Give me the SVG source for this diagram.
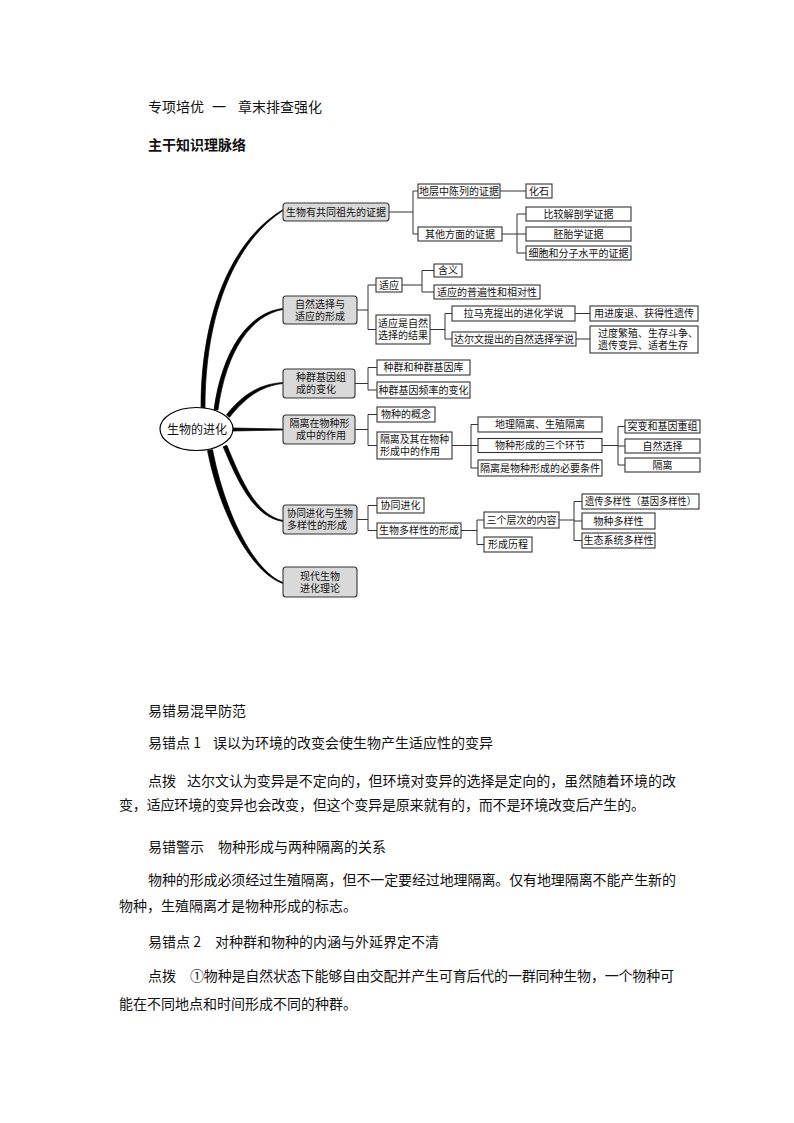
<svg xmlns="http://www.w3.org/2000/svg" width="794" height="1123" viewBox="0 0 794 1123">
<style>
text{font-family:"Noto Sans CJK SC","Liberation Sans",sans-serif;fill:#111}
.t14{font-size:14px}
.b{font-weight:bold}
.bx{font-size:10px;text-anchor:middle}
.bl{font-size:10px}
.g{fill:#d9d9d9;stroke:#333;stroke-width:1.1}
.w{fill:#fff;stroke:#333;stroke-width:1.1}
.c{fill:none;stroke:#333;stroke-width:1}
.cv{fill:#000;stroke:#000;stroke-width:0.7}
</style>
<rect width="794" height="1123" fill="#fff"/>
<text class="t14" x="148" y="112">专项培优</text>
<text class="t14" x="212" y="112">一</text>
<text class="t14" x="238" y="112">章末排查强化</text>
<text class="t14 b" x="148" y="150">主干知识理脉络</text>

<g id="connectors">
<path class="cv" d="M201,408 C201,310 233.5,239 283,209.6 L283,210.6 C236.5,241 205,310 205,408 Z"/>
<path class="cv" d="M214,410 C222,350 249,312 283,308.5 L283,309.5 C251,315 226,351 218,410 Z"/>
<path class="cv" d="M226.4,414.8 C242.4,394.8 259,384 283,382.5 L283,383.5 C261,386 245.6,397.2 229.6,417.2 Z"/>
<path class="cv" d="M233,428 L283,429 L283,430 L233,431 Z"/>
<path class="cv" d="M223.2,446.8 C238.2,482.8 254,517 283,521.5 L283,520.5 C256,515 241.8,481.2 226.8,445.2 Z"/>
<path class="cv" d="M207.5,450.5 C219.5,512.5 251,573 283,583.5 L283,582.5 C253,571 224.5,511.5 212.5,449.5 Z"/>
<path class="c" d="M389,212 H413 M413,191 V234 M413,191 H418 M413,234 H418 M500,191 H526 M502,234 H517 M517,214 V253 M517,214 H526 M517,234 H526 M517,253 H526"/>
<path class="c" d="M357,310 H368 M368,285 V329.5 M368,285 H376 M368,329.5 H376 M402,285 H422 M422,270.5 V292 M422,270.5 H434 M422,292 H434 M430,329.5 H445 M445,313.5 V339 M445,313.5 H452 M445,339 H452 M575,313.5 H590 M576,339 H590"/>
<path class="c" d="M355,383.5 H368 M368,367.5 V390 M368,367.5 H377 M368,390 H377"/>
<path class="c" d="M355,429.5 H368 M368,414.5 V445.5 M368,414.5 H377 M368,445.5 H377 M452,445.5 H471 M471,424.5 V468 M471,424.5 H478 M471,445.5 H478 M471,468 H478 M602,445.5 H618 M618,426.5 V465 M618,426.5 H625 M618,446 H625 M618,465 H625"/>
<path class="c" d="M357,519.5 H368 M368,505.5 V530.5 M368,505.5 H377 M368,530.5 H377 M461,530.5 H477 M477,520 V544.5 M477,520 H484 M477,544.5 H484 M559,520 H574 M574,501.5 V540.5 M574,501.5 H582 M574,521 H582 M574,540.5 H582"/>
</g>

<g id="root"><ellipse cx="196.5" cy="429" rx="36.5" ry="21.5" fill="#fff" stroke="#000" stroke-width="1.2"/><text x="197" y="433.5" style="font-size:12px;text-anchor:middle">生物的进化</text></g>

<g id="n1"><rect class="g" x="283" y="203" width="106" height="18" rx="3"/><text class="bx" x="336" y="215.5">生物有共同祖先的证据</text></g>
<g id="n2"><rect class="g" x="283" y="296" width="74" height="28" rx="3"/><text class="bx"><tspan x="320" y="307.5">自然选择与</tspan><tspan x="320" y="319.5">适应的形成</tspan></text></g>
<g id="n3"><rect class="g" x="283" y="369" width="72" height="29" rx="3"/><text class="bl"><tspan x="296" y="381">种群基因组</tspan><tspan x="296" y="393">成的变化</tspan></text></g>
<g id="n4"><rect class="g" x="283" y="415" width="72" height="29" rx="3"/><text class="bx"><tspan x="319.5" y="427">隔离在物种形</tspan><tspan x="321" y="439">成中的作用</tspan></text></g>
<g id="n5"><rect class="g" x="283" y="505" width="74" height="29" rx="3"/><text class="bl"><tspan x="287" y="517" textLength="66" lengthAdjust="spacingAndGlyphs">协同进化与生物</tspan><tspan x="287" y="529">多样性的形成</tspan></text></g>
<g id="n6"><rect class="g" x="283" y="567" width="74" height="30" rx="3"/><text class="bx"><tspan x="320" y="579.5">现代生物</tspan><tspan x="320" y="591.5">进化理论</tspan></text></g>

<g id="a1"><rect class="w" x="418" y="184" width="82" height="14"/><text class="bx" x="459" y="194.5">地层中陈列的证据</text></g>
<g id="a2"><rect class="w" x="526" y="184" width="26" height="14"/><text class="bx" x="539" y="194.5">化石</text></g>
<g id="a3"><rect class="w" x="418" y="227" width="84" height="14"/><text class="bx" x="460" y="237.5">其他方面的证据</text></g>
<g id="a4"><rect class="w" x="526" y="207" width="105" height="14"/><text class="bx" x="578.5" y="217.5">比较解剖学证据</text></g>
<g id="a5"><rect class="w" x="526" y="227" width="105" height="14"/><text class="bx" x="578.5" y="237.5">胚胎学证据</text></g>
<g id="a6"><rect class="w" x="526" y="246" width="105" height="14"/><text class="bx" x="578.5" y="256.5">细胞和分子水平的证据</text></g>

<g id="b1"><rect class="w" x="376" y="278" width="26" height="14"/><text class="bx" x="389" y="288.5">适应</text></g>
<g id="b2"><rect class="w" x="434" y="264" width="28" height="13"/><text class="bx" x="448" y="274">含义</text></g>
<g id="b3"><rect class="w" x="434" y="285" width="106" height="14"/><text class="bx" x="487" y="295.5">适应的普遍性和相对性</text></g>
<g id="b4"><rect class="w" x="376" y="315" width="54" height="29"/><text class="bx"><tspan x="403" y="327">适应是自然</tspan><tspan x="403" y="339">选择的结果</tspan></text></g>
<g id="b5"><rect class="w" x="452" y="306" width="123" height="15"/><text class="bx" x="513.5" y="317">拉马克提出的进化学说</text></g>
<g id="b6"><rect class="w" x="452" y="332" width="124" height="14"/><text class="bx" x="514" y="342.5">达尔文提出的自然选择学说</text></g>
<g id="b7"><rect class="w" x="590" y="306" width="108" height="15"/><text class="bx" x="644" y="317">用进废退、获得性遗传</text></g>
<g id="b8"><rect class="w" x="590" y="326" width="108" height="27"/><text class="bl"><tspan x="598" y="337">过度繁殖、生存斗争、</tspan><tspan x="598" y="349">遗传变异、适者生存</tspan></text></g>

<g id="c1"><rect class="w" x="377" y="360" width="93" height="15"/><text class="bx" x="423.5" y="371">种群和种群基因库</text></g>
<g id="c2"><rect class="w" x="377" y="382" width="93" height="16"/><text class="bx" x="423.5" y="393.5">种群基因频率的变化</text></g>

<g id="d1"><rect class="w" x="377" y="407" width="58" height="15"/><text class="bx" x="406" y="418">物种的概念</text></g>
<g id="d2"><rect class="w" x="377" y="432" width="75" height="27"/><text class="bl"><tspan x="380" y="443" textLength="69" lengthAdjust="spacingAndGlyphs">隔离及其在物种</tspan><tspan x="380" y="455">形成中的作用</tspan></text></g>
<g id="d3"><rect class="w" x="478" y="417" width="124" height="15"/><text class="bx" x="540" y="428">地理隔离、生殖隔离</text></g>
<g id="d4"><rect class="w" x="478" y="438.5" width="124" height="14"/><text class="bx" x="540" y="449">物种形成的三个环节</text></g>
<g id="d5"><rect class="w" x="478" y="460" width="124" height="16"/><text class="bx" x="540" y="471.5">隔离是物种形成的必要条件</text></g>
<g id="d6"><rect class="w" x="625" y="420" width="75" height="13"/><text class="bx" x="662.5" y="430" textLength="70" lengthAdjust="spacingAndGlyphs">突变和基因重组</text></g>
<g id="d7"><rect class="w" x="625" y="439" width="75" height="14"/><text class="bx" x="662.5" y="449.5">自然选择</text></g>
<g id="d8"><rect class="w" x="625" y="458" width="75" height="14"/><text class="bx" x="662.5" y="468.5">隔离</text></g>

<g id="e1"><rect class="w" x="377" y="498" width="47" height="15"/><text class="bx" x="400.5" y="509">协同进化</text></g>
<g id="e2"><rect class="w" x="377" y="523" width="84" height="15"/><text class="bx" x="419" y="534">生物多样性的形成</text></g>
<g id="e3"><rect class="w" x="484" y="512" width="75" height="16"/><text class="bx" x="521.5" y="523.5">三个层次的内容</text></g>
<g id="e4"><rect class="w" x="484" y="537" width="48" height="15"/><text class="bx" x="508" y="548">形成历程</text></g>
<g id="e5"><rect class="w" x="582" y="494" width="117" height="15"/><text class="bx" x="640.5" y="505" textLength="111" lengthAdjust="spacingAndGlyphs">遗传多样性（基因多样性）</text></g>
<g id="e6"><rect class="w" x="582" y="513" width="73" height="16"/><text class="bx" x="618.5" y="524.5">物种多样性</text></g>
<g id="e7"><rect class="w" x="582" y="533" width="73" height="15"/><text class="bx" x="618.5" y="544">生态系统多样性</text></g>

<text class="t14" x="148" y="716">易错易混早防范</text>
<text class="t14" x="148" y="748">易错点 1</text>
<text class="t14" x="213" y="748" textLength="280" lengthAdjust="spacing">误以为环境的改变会使生物产生适应性的变异</text>
<text class="t14" x="148" y="786">点拨</text>
<text class="t14" x="187" y="786" textLength="489" lengthAdjust="spacing">达尔文认为变异是不定向的，但环境对变异的选择是定向的，虽然随着环境的改</text>
<text class="t14" x="119" y="810" textLength="526" lengthAdjust="spacing">变，适应环境的变异也会改变，但这个变异是原来就有的，而不是环境改变后产生的。</text>
<text class="t14" x="148" y="852">易错警示</text>
<text class="t14" x="218" y="852">物种形成与两种隔离的关系</text>
<text class="t14" x="148" y="885" textLength="528" lengthAdjust="spacing">物种的形成必须经过生殖隔离，但不一定要经过地理隔离。仅有地理隔离不能产生新的</text>
<text class="t14" x="119" y="911">物种，生殖隔离才是物种形成的标志。</text>
<text class="t14" x="148" y="947">易错点 2</text>
<text class="t14" x="215" y="947">对种群和物种的内涵与外延界定不清</text>
<text class="t14" x="148" y="981">点拨</text>
<text class="t14" x="190" y="981" textLength="484" lengthAdjust="spacing">①物种是自然状态下能够自由交配并产生可育后代的一群同种生物，一个物种可</text>
<text class="t14" x="119" y="1009">能在不同地点和时间形成不同的种群。</text>
</svg>
